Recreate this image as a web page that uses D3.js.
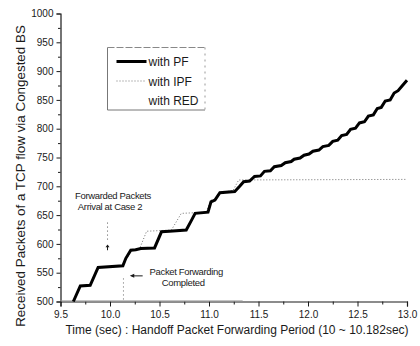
<!DOCTYPE html>
<html>
<head>
<meta charset="utf-8">
<script src="https://cdn.jsdelivr.net/npm/d3@7"></script>
<style>
  html, body { margin: 0; padding: 0; background: #fff; }
  svg { display: block; font-family: "Liberation Sans", Arial, sans-serif; }
</style>
</head>
<body>
<svg id="chart" width="420" height="346"></svg>
<script>
// Received packets over time, with packet forwarding (PF), improved PF (IPF) and RED
const pfTime = [9.63, 9.70, 9.80, 9.88, 10.13, 10.16, 10.21, 10.26, 10.31, 10.45, 10.52, 10.60, 10.77, 10.82, 10.86,
  10.99, 11.02, 11.06, 11.11, 11.26, 11.31, 11.35, 11.41, 11.46, 11.52, 11.56, 11.62, 11.66, 11.73, 11.77,
  11.83, 11.86, 11.92, 11.96, 12.01, 12.05, 12.11, 12.15, 12.21, 12.25, 12.30, 12.34, 12.39, 12.43, 12.48,
  12.52, 12.57, 12.61, 12.66, 12.70, 12.74, 12.78, 12.83, 12.87, 12.91, 12.95, 13.00];
const pfPackets = [500, 527, 528, 559, 562, 575, 589, 590, 592, 593, 621, 622, 624, 640, 653,
  655, 673, 676, 689, 691, 700, 708, 709, 717, 718, 726, 727, 734, 736, 741,
  743, 747, 749, 754, 756, 761, 763, 769, 771, 778, 780, 788, 790, 799, 801,
  810, 812, 822, 824, 835, 837, 848, 850, 862, 866, 874, 884];

const ipfTime = [9.63, 9.70, 9.80, 9.88, 10.13, 10.22, 10.30, 10.37, 10.62, 10.72, 10.97, 11.02, 11.06, 11.11, 11.24, 11.30, 13.00];
const ipfPackets = [500, 527, 528, 559, 562, 590, 592, 622, 624, 653, 655, 676, 678, 690, 692, 711, 712];

const redTime = [9.5, 11.34];
const redPackets = [501, 501];

const xTicks = [9.5, 10.0, 10.5, 11.0, 11.5, 12.0, 12.5, 13.0];
const yTicks = [500, 550, 600, 650, 700, 750, 800, 850, 900, 950, 1000];
const seriesNames = ["with PF", "with IPF", "with RED"];

const xTitle = "Time (sec) : Handoff Packet Forwarding Period (10 ~ 10.182sec)";
const yTitle = "Received Packets of a TCP flow via Congested BS";

const svg = d3.select("#chart");
const ink = "#1a1a1a";

const x = d3.scaleLinear().domain([9.5, 13.0]).range([60.5, 407]);
const y = d3.scaleLinear().domain([500, 1000]).range([301.5, 13.5]);

// Axes: major ticks with labels, minor ticks in between
const xAxis = d3.axisBottom(x).tickValues(xTicks).tickFormat(d3.format(".1f")).tickSize(5).tickPadding(4);
const yAxis = d3.axisLeft(y).tickValues(yTicks).tickFormat(d3.format("d")).tickSize(4).tickPadding(3);
const xMinor = d3.axisBottom(x).tickValues(d3.range(9.75, 13, 0.5)).tickFormat("").tickSize(3);
const yMinor = d3.axisLeft(y).tickValues(d3.range(525, 1000, 50)).tickFormat("").tickSize(2.5);

function styleAxis(g) {
  g.select(".domain").attr("stroke", ink).attr("stroke-width", 1.2);
  g.selectAll(".tick line").attr("stroke", ink).attr("stroke-width", 1);
  g.selectAll(".tick text").attr("fill", ink).attr("font-size", 10)
    .attr("font-family", "'Liberation Sans', Arial, sans-serif");
}

svg.append("g").attr("transform", `translate(0,${y(500)})`).call(xMinor).call(styleAxis)
  .select(".domain").remove();
svg.append("g").attr("transform", `translate(${x(9.5)},0)`).call(yMinor).call(styleAxis)
  .select(".domain").remove();
svg.append("g").attr("transform", `translate(0,${y(500)})`).call(xAxis).call(styleAxis);
svg.append("g").attr("transform", `translate(${x(9.5)},0)`).call(yAxis).call(styleAxis);

// Axis titles
svg.append("text")
  .attr("x", 237).attr("y", 334)
  .attr("text-anchor", "middle").attr("font-size", 12).attr("fill", ink)
  .text(xTitle);
svg.append("text")
  .attr("transform", "translate(25,176) rotate(-90)")
  .attr("text-anchor", "middle").attr("font-size", 13.4).attr("fill", ink)
  .text(yTitle);

const line = d3.line().x(d => x(d[0])).y(d => y(d[1]));

// RED curve stays at the bottom
svg.append("path")
  .datum(d3.zip(redTime, redPackets))
  .attr("d", line).attr("fill", "none")
  .attr("stroke", "#9a9a9a").attr("stroke-width", 1);

// IPF curve (dotted)
svg.append("path")
  .datum(d3.zip(ipfTime, ipfPackets))
  .attr("d", line).attr("fill", "none")
  .attr("stroke", "#707070").attr("stroke-width", 1)
  .attr("stroke-dasharray", "1,2");

// PF curve (thick solid)
svg.append("path")
  .datum(d3.zip(pfTime, pfPackets))
  .attr("d", line).attr("fill", "none")
  .attr("stroke", "#000").attr("stroke-width", 3)
  .attr("stroke-linejoin", "miter");

// Annotations
const noteFont = 9.5;
svg.append("text").attr("x", x(10.03)).attr("y", y(678))
  .attr("text-anchor", "middle").attr("font-size", noteFont).attr("letter-spacing", -0.35)
  .attr("fill", ink).text("Forwarded Packets");
svg.append("text").attr("x", x(10.0)).attr("y", y(659))
  .attr("text-anchor", "middle").attr("font-size", noteFont).attr("letter-spacing", -0.35)
  .attr("fill", ink).text("Arrival at Case 2");

svg.append("line")
  .attr("x1", x(9.975)).attr("x2", x(9.975)).attr("y1", y(637)).attr("y2", y(606))
  .attr("stroke", "#555").attr("stroke-width", 1).attr("stroke-dasharray", "1,3");
// small arrow under the dotted guide
svg.append("line")
  .attr("x1", x(9.975)).attr("x2", x(9.975)).attr("y1", y(596)).attr("y2", y(589))
  .attr("stroke", ink).attr("stroke-width", 1);
svg.append("path")
  .attr("d", `M${x(9.975) - 2},${y(594)} L${x(9.975)},${y(599)} L${x(9.975) + 2},${y(594)} Z`)
  .attr("fill", ink);

svg.append("text").attr("x", x(10.77)).attr("y", y(546))
  .attr("text-anchor", "middle").attr("font-size", noteFont).attr("letter-spacing", -0.35)
  .attr("fill", ink).text("Packet Forwarding");
svg.append("text").attr("x", x(10.74)).attr("y", y(527))
  .attr("text-anchor", "middle").attr("font-size", noteFont).attr("letter-spacing", -0.35)
  .attr("fill", ink).text("Completed");

svg.append("line")
  .attr("x1", x(10.33)).attr("x2", x(10.22)).attr("y1", y(544.5)).attr("y2", y(544.5))
  .attr("stroke", ink).attr("stroke-width", 1);
svg.append("path")
  .attr("d", `M${x(10.2)},${y(544.5)} L${x(10.245)},${y(544.5) - 2} L${x(10.245)},${y(544.5) + 2} Z`)
  .attr("fill", ink);
svg.append("line")
  .attr("x1", x(10.136)).attr("x2", x(10.136)).attr("y1", y(540)).attr("y2", y(503))
  .attr("stroke", "#666").attr("stroke-width", 1).attr("stroke-dasharray", "1,3");

// Legend
const lg = svg.append("g").attr("transform", "translate(107.5,47.5)");
const lw = 97.5, lh = 62.5;
lg.append("path").attr("d", `M0,0 V${lh} H${lw}`).attr("fill", "none").attr("stroke", "#777").attr("stroke-width", 1);
lg.append("path").attr("d", `M0,0 H${lw}`).attr("fill", "none").attr("stroke", "#888").attr("stroke-width", 1)
  .attr("stroke-dasharray", "7,2");
lg.append("path").attr("d", `M${lw},0 V${lh}`).attr("fill", "none").attr("stroke", "#999").attr("stroke-width", 1)
  .attr("stroke-dasharray", "2,4");

const rows = lg.selectAll("g.row").data(seriesNames).join("g")
  .attr("class", "row")
  .attr("transform", (d, i) => `translate(0,${14 + i * 19.5})`);
rows.append("line")
  .attr("x1", 9).attr("x2", 39).attr("y1", 0).attr("y2", 0)
  .attr("stroke", (d, i) => i === 0 ? "#000" : (i === 1 ? "#777" : "none"))
  .attr("stroke-width", (d, i) => i === 0 ? 3 : 1)
  .attr("stroke-dasharray", (d, i) => i === 1 ? "1,2" : null);
rows.append("text")
  .attr("x", 41).attr("y", 4.5)
  .attr("font-size", 12).attr("fill", ink)
  .text(d => d);
</script>
</body>
</html>
